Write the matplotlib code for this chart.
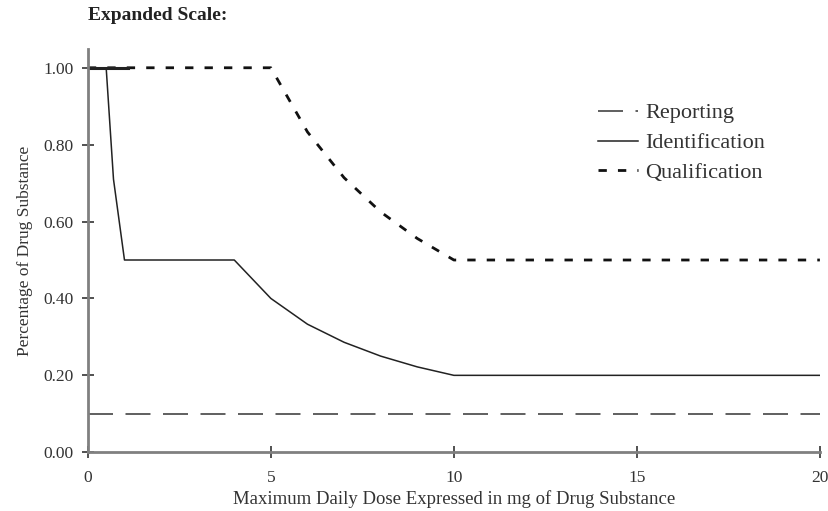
import numpy as np
import matplotlib.pyplot as plt

plt.rcParams['font.family'] = ['Liberation Serif', 'DejaVu Serif']

# 閾値データ
report_x = [0, 20]
report_y = [0.10, 0.10]

ident_x = [0, 0.5, 0.7, 1, 4, 5, 6, 7, 8, 9, 10, 20]
ident_y = [1.00, 1.00, 0.71, 0.50, 0.50, 0.40, 0.333, 0.286, 0.25, 0.222, 0.20, 0.20]

qual_x = [0, 5, 6, 7, 8, 9, 10, 20]
qual_y = [1.00, 1.00, 0.833, 0.714, 0.625, 0.556, 0.50, 0.50]

xticks = [0, 5, 10, 15, 20]
yticks = [0.0, 0.2, 0.4, 0.6, 0.8, 1.0]

fig = plt.figure(figsize=(8.29, 5.11), dpi=100)
ax = fig.add_axes([0.106, 0.115, 0.883, 0.79])

ax.plot(report_x, report_y, color="#444444", lw=1.2, dashes=(15, 7.5), label="Reporting")
ax.plot(ident_x, ident_y, color="#222222", lw=1.1, label="Identification")
ax.plot(qual_x, qual_y, color="#111111", lw=2.0, dashes=(3, 4), label="Qualification")
# 1.00の太線部分
ax.plot([0, 1.1], [1.0, 1.0], color="#222222", lw=2.2)

ax.set_xlim(0, 20)
ax.set_ylim(0, 1.05)
ax.set_xticks(xticks)
ax.set_yticks(yticks)
ax.set_yticklabels(["%.2f" % v for v in yticks])

for s in ["top", "right"]:
    ax.spines[s].set_visible(False)
for s in ["left", "bottom"]:
    ax.spines[s].set_color("#808080")
    ax.spines[s].set_linewidth(2)

ax.tick_params(direction="inout", length=8, width=1.2, color="#333333",
               labelsize=12.5, labelcolor="#333333", pad=6)
ax.tick_params(axis="x", pad=9)

ax.set_xlabel("Maximum Daily Dose Expressed in mg of Drug Substance",
              fontsize=13.5, color="#333333", labelpad=3)
ax.set_ylabel("Percentage of Drug Substance", fontsize=12.5, color="#333333", labelpad=8)

fig.text(0.106, 0.97, "Expanded Scale:", fontsize=14, fontweight="bold",
         color="#222222", va="center")

leg = ax.legend(loc="upper left", bbox_to_anchor=(0.67, 0.915), frameon=False,
                fontsize=16, handlelength=1.8, handletextpad=0.3, labelspacing=0.42,
                labelcolor="#333333")

fig.savefig("out.png", dpi=100)
